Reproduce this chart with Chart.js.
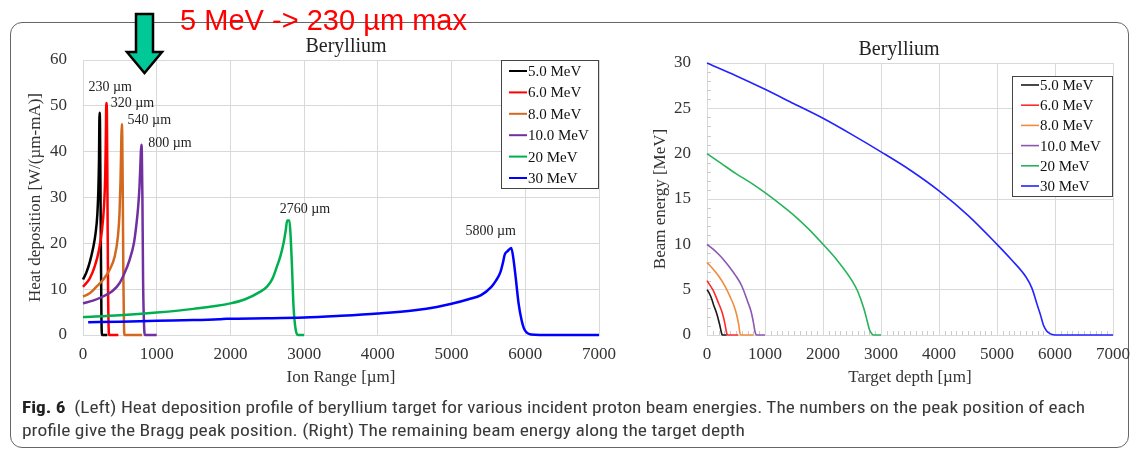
<!DOCTYPE html>
<html>
<head>
<meta charset="utf-8">
<script src="https://cdn.jsdelivr.net/npm/chart.js@4.4.1/dist/chart.umd.min.js"></script>
<style>
  body { margin: 0; width: 1136px; height: 450px; background: #fff; position: relative; overflow: hidden; }
  #frame { position: absolute; left: 10px; top: 22px; width: 1117px; height: 424px; border: 1px solid #666; border-radius: 12px; }
  .wrap { position: absolute; }
  .title { position: absolute; font-family: "Liberation Serif", serif; font-size: 20px; color: #222; white-space: nowrap; transform: translateX(-50%); }
  .fit { position: absolute; display: inline-block; white-space: nowrap; transform-origin: 0 0; }
  .cap { font-family: "Liberation Sans Narrow", "Roboto Condensed", "Liberation Sans", sans-serif; font-size: 17px; line-height: 17px; color: #3a3a3a; }
  .cap b { color: #222; }
  #note { font-family: "Liberation Sans", Arial, sans-serif; font-size: 29px; line-height: 29px; color: #ff0000; }
</style>
</head>
<body>
<div id="frame"></div>
<div class="wrap" style="left:15px; top:30px;"><canvas id="heatChart" width="610" height="370"></canvas></div>
<div class="wrap" style="left:620px; top:30px;"><canvas id="energyChart" width="520" height="370"></canvas></div>
<div class="title" style="left:346px; top:34px;">Beryllium</div>
<div class="title" style="left:899px; top:37px;">Beryllium</div>
<div id="note" class="fit" style="left:180px; top:6px;">5 MeV -&gt; 230 µm max</div>
<svg style="position:absolute; left:0; top:0;" width="200" height="90">
  <polygon points="136,14 153,14 153,52 162,52 144.5,73 127,52 136,52" fill="#00c896" stroke="#000" stroke-width="2.5" stroke-linejoin="miter"/>
</svg>
<div id="cap1" class="fit cap" style="left:22px; top:399px;"><b>Fig. 6</b>&nbsp; (Left) Heat deposition profile of beryllium target for various incident proton beam energies. The numbers on the peak position of each</div>
<div id="cap2" class="fit cap" style="left:22px; top:422px;">profile give the Bragg peak position. (Right) The remaining beam energy along the target depth</div>

<script>
const energyLabels = ["5.0 MeV", "6.0 MeV", "8.0 MeV", "10.0 MeV", "20 MeV", "30 MeV"];

// left: heat deposition [W/(µm-mA)] vs ion range [µm]
const heat5x = [0, 45, 90, 135, 170, 195, 208, 217, 224, 230, 240, 250, 260, 330];
const heat5y = [12.1, 13.6, 15.8, 18.8, 22.1, 26.4, 31.5, 38, 48.5, 47, 25, 4, 0, 0];
const heat6x = [0, 90, 158, 216, 257, 284, 302, 311, 316, 324, 332, 340, 348, 355, 480];
const heat6y = [10.5, 12.3, 14.9, 18.5, 22.8, 27.9, 35.1, 44.5, 50.6, 49, 30, 10, 1.5, 0, 0];
const heat8x = [0, 90, 180, 270, 360, 428, 473, 495, 509, 518, 525, 532, 540, 548, 556, 565, 800];
const heat8y = [8.4, 9.1, 10.5, 12, 14.2, 17, 21.4, 26.4, 33.6, 40.9, 46, 44, 30, 12, 2, 0, 0];
const heat10x = [0, 135, 270, 400, 495, 563, 630, 689, 720, 748, 766, 779, 790, 798, 806, 815, 829, 840, 1000];
const heat10y = [6.9, 7.5, 8.4, 9.6, 11.3, 13.5, 16.3, 19.9, 23.5, 27.9, 32.2, 37.3, 41.5, 40, 30, 12, 1.9, 0, 0];
const heat20x = [0, 500, 1000, 1500, 2000, 2200, 2400, 2500, 2570, 2630, 2680, 2720, 2750, 2770, 2800, 2815, 2835, 2855, 2885, 2920, 3000];
const heat20y = [3.9, 4.3, 4.9, 5.7, 6.9, 7.8, 9.4, 10.6, 12.3, 14.9, 17.3, 20, 22.8, 25, 25, 22, 15, 6.5, 1.2, 0, 0];
const heat30x = [70, 500, 1000, 1500, 1850, 1950, 2500, 3000, 3500, 4000, 4500, 4800, 5000, 5230, 5400, 5540, 5600, 5660, 5700, 5720, 5760, 5810, 5840, 5870, 5910, 5950, 5980, 6020, 6080, 6200, 7000];
const heat30y = [2.8, 2.9, 3.1, 3.25, 3.45, 3.55, 3.65, 3.8, 4.2, 4.7, 5.4, 6.1, 6.8, 7.8, 8.7, 10.5, 11.8, 13.6, 16, 17.5, 18.3, 19, 16.5, 12.5, 6.8, 3.2, 1.5, 0.5, 0.1, 0, 0];

const peakTexts = ["230 µm", "320 µm", "540 µm", "800 µm", "2760 µm", "5800 µm"];

// right: remaining beam energy [MeV] vs target depth [µm]
const energy5x = [0, 40, 80, 114, 150, 180, 200, 220, 240, 255, 270, 340];
const energy5y = [5.0, 4.6, 4.0, 3.3, 2.7, 2.1, 1.6, 1.1, 0.5, 0.1, 0, 0];
const energy6x = [0, 50, 100, 143, 200, 250, 286, 310, 330, 345, 360, 540];
const energy6y = [6.0, 5.5, 5.0, 4.4, 3.5, 2.7, 1.9, 1.2, 0.5, 0.1, 0, 0];
const energy8x = [0, 100, 200, 300, 400, 460, 500, 530, 550, 565, 580, 800];
const energy8y = [8.0, 7.3, 6.5, 5.5, 4.2, 3.3, 2.5, 1.7, 1.0, 0.3, 0, 0];
const energy10x = [0, 100, 200, 300, 400, 500, 600, 700, 760, 800, 830, 850, 1000];
const energy10y = [10, 9.5, 8.9, 8.2, 7.4, 6.5, 5.4, 3.7, 2.6, 1.4, 0.3, 0, 0];
const energy20x = [0, 250, 500, 750, 1000, 1250, 1500, 1750, 2000, 2250, 2500, 2600, 2700, 2760, 2800, 2840, 2870, 3000];
const energy20y = [20, 18.9, 17.8, 16.8, 15.7, 14.5, 13.2, 11.7, 10, 8.2, 6.0, 4.8, 3.0, 1.6, 0.6, 0.15, 0, 0];
const energy30x = [0, 500, 1000, 1500, 2000, 2500, 3000, 3500, 4000, 4500, 5000, 5250, 5500, 5600, 5700, 5750, 5800, 5850, 5900, 5950, 6000, 7000];
const energy30y = [30, 28.6, 27.1, 25.5, 23.9, 22.1, 20.2, 18.2, 15.9, 13.2, 10, 8.3, 6.4, 5.2, 3.2, 2.2, 1.1, 0.5, 0.2, 0.05, 0, 0];

Chart.defaults.font.family = "'Liberation Serif', serif";
Chart.defaults.color = "#333";

function series(xs, ys) {
  return xs.map((x, i) => ({ x: x, y: ys[i] }));
}

function makeDatasets(xsList, ysList, colors, width) {
  return xsList.map((xs, i) => ({
    label: energyLabels[i],
    data: series(xs, ysList[i]),
    borderColor: colors[i],
    backgroundColor: colors[i],
    borderWidth: width,
    pointRadius: 0,
    showLine: true,
    cubicInterpolationMode: "monotone",
    order: xsList.length - i,
    clip: 6
  }));
}

// legend drawn as a framed box in the corner of the plot area
const boxLegend = {
  id: "boxLegend",
  afterDatasetsDraw(chart, args, o) {
    const ctx = chart.ctx;
    const a = chart.chartArea;
    const x = a.right - o.width, y = a.top + o.dy;
    ctx.save();
    ctx.fillStyle = "#fff";
    ctx.fillRect(x, y, o.width, o.height);
    ctx.strokeStyle = "#444";
    ctx.lineWidth = 1;
    ctx.strokeRect(x + 0.5, y + 0.5, o.width - 1, o.height);
    ctx.font = "15px 'Liberation Serif'";
    ctx.textBaseline = "middle";
    chart.data.datasets.forEach((ds, i) => {
      const ry = y + o.first + i * o.row;
      ctx.strokeStyle = ds.borderColor;
      ctx.lineWidth = o.lineWidth;
      ctx.beginPath();
      ctx.moveTo(x + o.lineStart, ry);
      ctx.lineTo(x + o.lineStart + 18, ry);
      ctx.stroke();
      ctx.fillStyle = "#111";
      ctx.fillText(ds.label, x + o.lineStart + 19, ry + 1);
    });
    ctx.restore();
  }
};

// Bragg peak position labels, placed in data coordinates
const peakLabels = {
  id: "peakLabels",
  afterDatasetsDraw(chart, args, o) {
    if (!o.texts) return;
    const ctx = chart.ctx;
    const sx = chart.scales.x, sy = chart.scales.y;
    ctx.save();
    ctx.font = "14px 'Liberation Serif'";
    ctx.fillStyle = "#222";
    ctx.textAlign = "center";
    ctx.textBaseline = "middle";
    o.texts.forEach((t, i) => {
      ctx.fillText(t, sx.getPixelForValue(o.at[i][0]), sy.getPixelForValue(o.at[i][1]));
    });
    ctx.restore();
  }
};

// small inside minor ticks
const minorTicks = {
  id: "minorTicks",
  beforeDatasetsDraw(chart, args, o) {
    if (!o.x) return;
    const ctx = chart.ctx;
    const a = chart.chartArea;
    const sx = chart.scales.x, sy = chart.scales.y;
    ctx.save();
    ctx.strokeStyle = "#cccccc";
    ctx.lineWidth = 1;
    ctx.beginPath();
    for (let v = o.x; v < sx.max; v += o.x) {
      if (v % 1000 === 0) continue;
      const px = Math.round(sx.getPixelForValue(v)) + 0.5;
      ctx.moveTo(px, a.bottom);
      ctx.lineTo(px, a.bottom - 4);
    }
    for (let v = o.y; v < sy.max; v += o.y) {
      if (v % 5 === 0) continue;
      const py = Math.round(sy.getPixelForValue(v)) + 0.5;
      ctx.moveTo(a.left, py);
      ctx.lineTo(a.left + 4, py);
    }
    ctx.stroke();
    ctx.restore();
  }
};

function axes(xTitle, yTitle, yMax, yStep, yWidth, yTitlePad) {
  const grid = { color: "#d9d9d9", drawTicks: false };
  const font = { family: "'Liberation Serif', serif", size: 17 };
  return {
    x: {
      type: "linear", min: 0, max: 7000,
      ticks: { stepSize: 1000, padding: 9, font: font, color: "#333", format: { useGrouping: false } },
      grid: grid,
      border: { color: "#d9d9d9" },
      title: { display: true, text: xTitle, font: font, color: "#333", padding: { top: 0, bottom: 12 } },
      afterFit: (s) => { s.height = 65; }
    },
    y: {
      type: "linear", min: 0, max: yMax,
      ticks: { stepSize: yStep, padding: 16, font: font, color: "#333" },
      grid: grid,
      border: { color: "#d9d9d9" },
      title: { display: true, text: yTitle, font: font, color: "#333", padding: { top: yTitlePad, bottom: 0 } },
      afterFit: (s) => { s.width = yWidth; }
    }
  };
}

new Chart(document.getElementById("heatChart"), {
  type: "scatter",
  data: {
    datasets: makeDatasets(
      [heat5x, heat6x, heat8x, heat10x, heat20x, heat30x],
      [heat5y, heat6y, heat8y, heat10y, heat20y, heat30y],
      ["#000000", "#ff0000", "#d2691e", "#7030a0", "#00b050", "#0000ff"],
      2.5
    )
  },
  options: {
    responsive: false,
    animation: false,
    devicePixelRatio: 1,
    layout: { padding: { top: 30, right: 25, left: 0, bottom: 0 } },
    scales: axes("Ion Range [µm]", "Heat deposition [W/(µm-mA)]", 60, 10, 68, 10),
    plugins: {
      legend: { display: false },
      tooltip: { enabled: false },
      boxLegend: { width: 98, height: 128, dy: 0, first: 11, row: 21.4, lineStart: 8, lineWidth: 2 },
      peakLabels: {
        texts: peakTexts,
        at: [[370, 54.1], [670, 50.6], [900, 46.9], [1180, 41.9], [3010, 27.5], [5530, 22.7]]
      },
      minorTicks: {}
    }
  },
  plugins: [boxLegend, peakLabels, minorTicks]
});

new Chart(document.getElementById("energyChart"), {
  type: "scatter",
  data: {
    datasets: makeDatasets(
      [energy5x, energy6x, energy8x, energy10x, energy20x, energy30x],
      [energy5y, energy6y, energy8y, energy10y, energy20y, energy30y],
      ["#1a1a1a", "#ff2a2a", "#f28c3c", "#8a58b0", "#27b35a", "#2323ff"],
      1.6
    )
  },
  options: {
    responsive: false,
    animation: false,
    devicePixelRatio: 1,
    layout: { padding: { top: 33, right: 27, left: 0, bottom: 0 } },
    scales: axes("Target depth [µm]", "Beam energy [MeV]", 30, 5, 87, 30),
    plugins: {
      legend: { display: false },
      tooltip: { enabled: false },
      boxLegend: { width: 101, height: 120, dy: 13, first: 9, row: 20.2, lineStart: 9, lineWidth: 1.6 },
      peakLabels: {},
      minorTicks: { x: 100, y: 1 }
    }
  },
  plugins: [boxLegend, peakLabels, minorTicks]
});

function fitWidth(id, w) {
  const el = document.getElementById(id);
  el.style.transform = "scaleX(" + (w / el.getBoundingClientRect().width) + ")";
}
fitWidth("note", 287);
fitWidth("cap1", 1063);
fitWidth("cap2", 723);
</script>
</body>
</html>
